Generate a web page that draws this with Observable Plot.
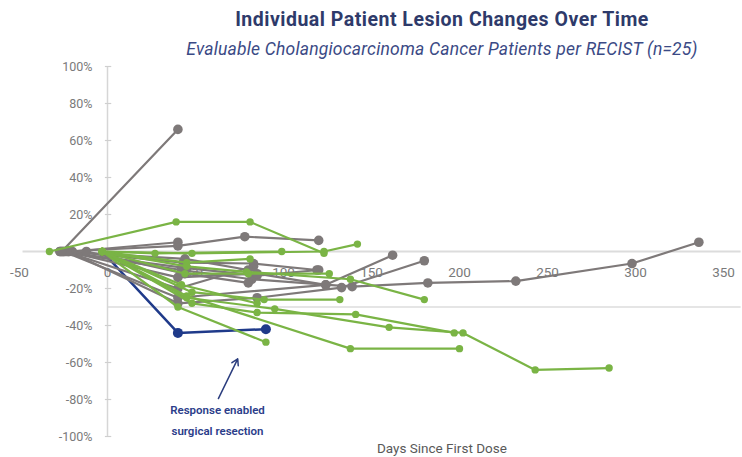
<!DOCTYPE html>
<html>
<head>
<meta charset="utf-8">
<script src="https://cdn.jsdelivr.net/npm/d3@7"></script>
<script src="https://cdn.jsdelivr.net/npm/@observablehq/plot@0.6"></script>
<style>
  html, body { margin: 0; padding: 0; background: #fff; overflow: hidden; }
  #wrap { width: 742px; height: 457px; position: relative; font-family: Roboto, "Open Sans", sans-serif; }
  #head { height: 60px; position: relative; }
  #title { position: absolute; left: 142px; width: 600px; top: 8px; text-align: center;
           font-weight: 700; font-size: 19.5px; color: #2e3a6a; letter-spacing: 0.5px; }
  #subtitle { position: absolute; left: 142px; width: 600px; top: 39px; text-align: center;
           font-style: italic; font-size: 17.5px; color: #3b4a85; letter-spacing: 0.2px; }
  svg { display: block; }
</style>
</head>
<body>
<div id="wrap">
  <div id="head">
    <div id="title">Individual Patient Lesion Changes Over Time</div>
    <div id="subtitle">Evaluable Cholangiocarcinoma Cancer Patients per RECIST (n=25)</div>
  </div>
  <div id="chart"></div>
</div>
<script>
// ---- data (estimated) ----
const patients = ["G01","G02","G03","G04","G05","G06","G07","G08","G09","G10","G11","G12",
                  "N01","N02","N03","N04","N05","N06","N07","N08","N09","N10","N11","N12","B01"];
const groups = ["gray","gray","gray","gray","gray","gray","gray","gray","gray","gray","gray","gray",
                "green","green","green","green","green","green","green","green","green","green","green","green","blue"];
const days = [
  [-26, 40],
  [-20, 40],
  [-25, 40, 78, 120],
  [-27, 42, 82, 139, 182, 232, 298, 336],
  [-22, 43, 83, 119],
  [-25, 40, 124, 162],
  [-22, 40, 85, 133, 180],
  [-12, 44, 80],
  [-24, 40, 83],
  [-27, 45, 85, 120],
  [-23, 40, 85, 124],
  [-26, 44, 80],
  [-33, 39, 81, 123],
  [-3, 27, 99],
  [-3, 48, 123, 142],
  [-3, 45, 81],
  [-3, 45, 79, 138, 180],
  [-3, 48, 89, 132],
  [-3, 48, 85, 141, 197],
  [-3, 45, 95, 160, 202, 243, 285],
  [-3, 40, 90],
  [-3, 45, 138, 200],
  [-3, 44, 80, 126],
  [-3, 42, 85],
  [-3, 40, 90]
];
const change = [
  [0, 66],
  [0, 5],
  [0, 3, 8, 6],
  [0, -10, -15, -19, -17, -16, -6.5, 5],
  [0, -6, -6.5, -10],
  [0, -25, -18, -2],
  [0, -28, -25, -19.5, -5],
  [0, -12, -17],
  [0, -20, -8],
  [0, -9, -13, -10],
  [0, -14, -12, -18],
  [0, -4, -10],
  [0, 16, 16, -1],
  [0, -1, 0],
  [0, -1, 0, 4],
  [0, -6, -4],
  [0, -8, -11, -15, -26],
  [0, -22, -26, -26],
  [0, -28, -33, -34, -44],
  [0, -25, -31, -41, -44, -64, -63],
  [0, -30, -49],
  [0, -24, -52.5, -52.5],
  [0, -12, -12, -12],
  [0, -18, -28],
  [0, -44, -42]
];
const xTicks = [-50, 0, 50, 100, 150, 200, 250, 300, 350];
const yTicks = [-100, -80, -60, -40, -20, 20, 40, 60, 80, 100];
const noteLines = ["Response enabled", "surgical resection"];
const noteX = [62.5, 62.5];
const noteY = [-86, -97];
const arrowFrom = [[63, -79.5]];
const arrowTo = [[74, -58]];

const groupColors = {gray: "#7e7979", green: "#7ab445", blue: "#1f3a8a"};

const rows = patients.flatMap((p, i) =>
  days[i].map((d, j) => ({patient: p, group: groups[i], day: d, change: change[i][j]})));

const grayRows = rows.filter(r => r.group === "gray");
const greenRows = rows.filter(r => r.group === "green");
const blueRows = rows.filter(r => r.group === "blue");

const chart = Plot.plot({
  width: 742,
  height: 397,
  marginTop: 6,
  marginBottom: 21,
  marginLeft: 19,
  marginRight: 1.4,
  x: {domain: [-50, 360], axis: null},
  y: {domain: [-100, 100], axis: null},
  style: {fontFamily: "Roboto, sans-serif", background: "#fff"},
  marks: [
    Plot.ruleY([0], {x1: -48, x2: 360, stroke: "#dcdcdc", strokeWidth: 2}),
    Plot.ruleY([-30], {x1: 0, x2: 360, stroke: "#dcdcdc", strokeWidth: 1.5}),
    Plot.ruleX([0], {y1: -100, y2: 100, stroke: "#d6d6d6", strokeWidth: 1.5}),
    Plot.ruleY(yTicks, {x1: -1.2, x2: 2.4, stroke: "#cfcfcf", strokeWidth: 1.2}),
    Plot.text(yTicks, {x: 0, y: d => d, text: d => d + "%", textAnchor: "end", dx: -15,
                       fill: "#7a7a7a", fontSize: 12.5}),
    Plot.text(xTicks, {x: d => d, y: 0, text: d => String(d), dy: 21,
                       fill: "#7a7a7a", fontSize: 13.5}),
    Plot.line(blueRows, {x: "day", y: "change", z: "patient", stroke: groupColors.blue, strokeWidth: 2.5}),
    Plot.line(grayRows, {x: "day", y: "change", z: "patient", stroke: groupColors.gray, strokeWidth: 2.2}),
    Plot.dot(grayRows, {x: "day", y: "change", r: 4.8, fill: groupColors.gray}),
    Plot.line(greenRows, {x: "day", y: "change", z: "patient", stroke: groupColors.green, strokeWidth: 2.2}),
    Plot.dot(greenRows, {x: "day", y: "change", r: 3.7, fill: groupColors.green}),
    Plot.dot(blueRows.filter(r => r.day > 0), {x: "day", y: "change", r: 5, fill: groupColors.blue}),
    Plot.arrow(arrowFrom.map((a, i) => ({x1: a[0], y1: a[1], x2: arrowTo[i][0], y2: arrowTo[i][1]})),
               {x1: "x1", y1: "y1", x2: "x2", y2: "y2", stroke: "#2b3d7e", strokeWidth: 1.5, headLength: 7}),
    Plot.text(noteLines, {x: (d, i) => noteX[i], y: (d, i) => noteY[i], text: d => d,
                          fill: "#2b3d8a", fontSize: 11.5, fontWeight: 600}),
    Plot.text(["Days Since First Dose"], {x: 190, y: -100, text: d => d, dy: 12,
                          fill: "#595959", fontSize: 13.5})
  ]
});
document.getElementById("chart").appendChild(chart);
</script>
</body>
</html>
